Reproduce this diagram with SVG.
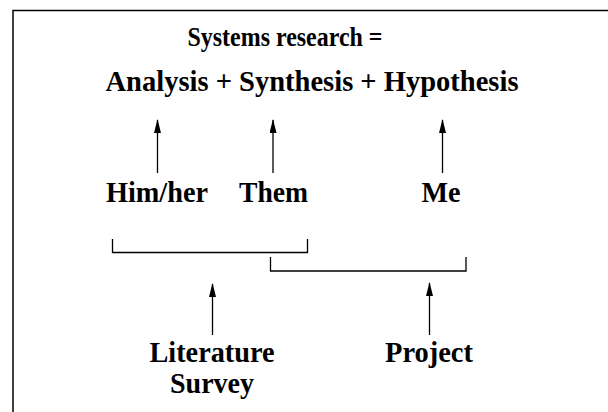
<svg xmlns="http://www.w3.org/2000/svg" width="608" height="412" viewBox="0 0 608 412">
<style>
.t{font-family:"Liberation Serif","Times New Roman",serif;font-weight:bold;font-size:29px;fill:#000;text-anchor:middle}
.c{stroke:#000;stroke-width:1.3;fill:none}
.f{stroke:#000;stroke-width:1.5;fill:none}
</style>
<defs>
<marker id="ah" markerUnits="userSpaceOnUse" markerWidth="14" markerHeight="7" refX="13" refY="3.5" viewBox="0 0 14 7" orient="auto">
<path d="M0,0 L14,3.5 L0,7 Z" fill="#000"/>
</marker>
</defs>
<rect width="608" height="412" fill="#fff"/>
<path class="f" d="M13,412 V10.5 H608"/>
<g id="title"><text class="t" x="285" y="46" style="font-size:27px" textLength="195" lengthAdjust="spacingAndGlyphs">Systems research =</text></g>
<g id="equation"><text class="t" x="312" y="91" textLength="413" lengthAdjust="spacingAndGlyphs">Analysis + Synthesis + Hypothesis</text></g>
<g id="himher"><text class="t" x="157" y="202" textLength="102" lengthAdjust="spacingAndGlyphs">Him/her</text></g>
<g id="them"><text class="t" x="273.5" y="202" textLength="69" lengthAdjust="spacingAndGlyphs">Them</text></g>
<g id="me"><text class="t" x="441" y="202" textLength="39" lengthAdjust="spacingAndGlyphs">Me</text></g>
<g id="literature"><text class="t" x="212" y="362" textLength="125" lengthAdjust="spacingAndGlyphs">Literature</text><text class="t" x="212" y="393" textLength="84" lengthAdjust="spacingAndGlyphs">Survey</text></g>
<g id="project"><text class="t" x="429" y="362" textLength="88" lengthAdjust="spacingAndGlyphs">Project</text></g>
<g id="connectors">
<line class="c" x1="157.5" y1="173" x2="157.5" y2="120" marker-end="url(#ah)"/>
<line class="c" x1="273" y1="173" x2="273" y2="120" marker-end="url(#ah)"/>
<line class="c" x1="442.5" y1="173" x2="442.5" y2="120" marker-end="url(#ah)"/>
<path class="c" d="M112.5,239 V252.5 H307.5 V239"/>
<path class="c" d="M270.5,257 V271 H466 V257"/>
<line class="c" x1="212.5" y1="335" x2="212.5" y2="284" marker-end="url(#ah)"/>
<line class="c" x1="429.5" y1="335" x2="429.5" y2="283" marker-end="url(#ah)"/>
</g>
</svg>
